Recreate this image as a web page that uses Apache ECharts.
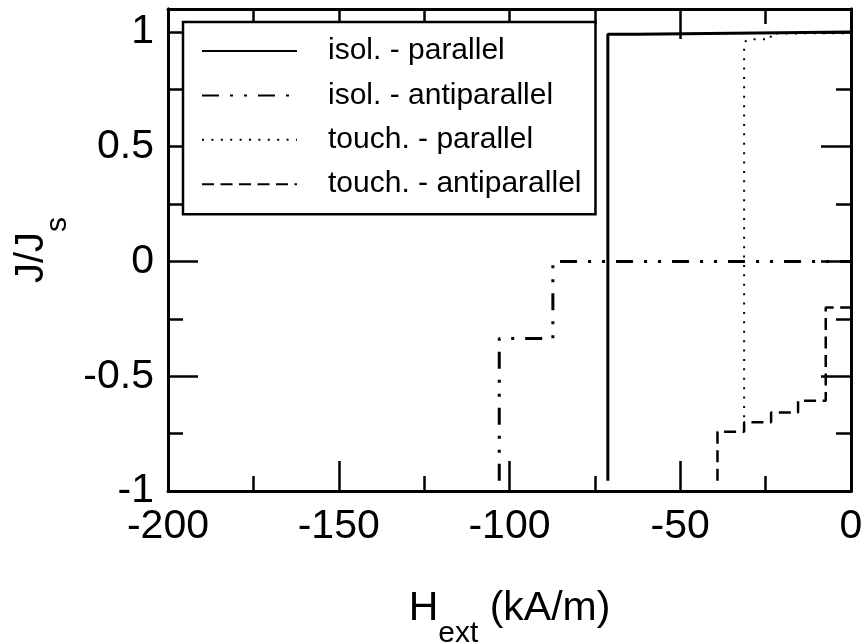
<!DOCTYPE html>
<html>
<head>
<meta charset="utf-8">
<script src="https://cdn.jsdelivr.net/npm/echarts@6/dist/echarts.min.js"></script>
<style>
  html, body { margin: 0; padding: 0; background: #fff; }
  #myChart { width: 866px; height: 644px; }
</style>
</head>
<body>
<div id="myChart"></div>
<script>
// step curves: x in kA/m, y as J/Js
const names = ['isol. - parallel', 'isol. - antiparallel', 'touch. - parallel', 'touch. - antiparallel'];

const isolParX = [-71.2, -71.2, -62.7, -62.7, 0];
const isolParY = [-0.955, 0.99, 0.99, 0.997, 1.0];

const isolAntiX = [-103, -103, -87.3, -87.3, 0];
const isolAntiY = [-0.955, -0.336, -0.336, 0, 0];

const touchParX = [-31.3, -31.3, -30, -23.5, -23.5, 0];
const touchParY = [-0.72, 0.955, 0.968, 0.968, 0.993, 0.995];

const touchAntiX = [-39.1, -39.1, -31.3, -31.3, -23.4, -23.4, -15.5, -15.5, -7.4, -7.4, 0];
const touchAntiY = [-0.955, -0.742, -0.742, -0.70, -0.70, -0.658, -0.658, -0.607, -0.607, -0.20, -0.20];

const xMin = -200, xMax = 0, xStep = 50;
const yMin = -1, yMax = 1.1, yStep = 0.5, yMinorStep = 0.25;

const FONT = 'Liberation Sans';

function pairs(xs, ys) {
  return xs.map((x, i) => [x, ys[i]]);
}

var myChart = echarts.init(document.getElementById('myChart'));

// frame axis helper (ticks inside, no labels unless asked)
function xAx(pos, showLabel) {
  return {
    type: 'value', position: pos, min: xMin, max: xMax, interval: xStep,
    axisLine: { onZero: false, lineStyle: { color: '#000', width: 3 } },
    axisTick: { inside: true, length: 30, lineStyle: { color: '#000', width: 2.5 } },
    minorTick: { show: true, splitNumber: 2, length: 15, lineStyle: { color: '#000', width: 2.5 } },
    splitLine: { show: false },
    axisLabel: { show: showLabel, color: '#000', fontSize: 41, fontFamily: FONT, margin: 15 }
  };
}
function yAx(pos, step, len, showLabel) {
  return {
    type: 'value', position: pos, min: yMin, max: yMax, interval: step, offset: 0,
    axisLine: { onZero: false, lineStyle: { color: '#000', width: 3 } },
    axisTick: { inside: true, length: len, lineStyle: { color: '#000', width: 2.5 } },
    splitLine: { show: false },
    axisLabel: {
      show: showLabel, color: '#000', fontSize: 41, fontFamily: FONT, margin: 14,
      formatter: function (v) { return v > 1.05 ? '' : String(v); }
    }
  };
}

var xMain = xAx('bottom', true);
xMain.name = '{a|H}{b|ext}{a| (kA/m)}';
xMain.nameLocation = 'middle';
xMain.nameGap = 78;
xMain.nameTextStyle = {
  color: '#000', fontFamily: FONT,
  rich: {
    a: { fontSize: 41, lineHeight: 80, fontFamily: FONT, color: '#000' },
    b: { fontSize: 30, lineHeight: 30, verticalAlign: 'bottom', fontFamily: FONT, color: '#000' }
  }
};

var yMain = yAx('left', yStep, 30, true);
yMain.name = '{a|J/J}{b|s}';
yMain.nameLocation = 'middle';
yMain.nameGap = 94;
yMain.nameTextStyle = {
  color: '#000', fontFamily: FONT,
  rich: {
    a: { fontSize: 40, lineHeight: 80, fontFamily: FONT, color: '#000' },
    b: { fontSize: 30, lineHeight: 30, verticalAlign: 'bottom', fontFamily: FONT, color: '#000' }
  }
};

var styles = [
  { type: 'solid', width: 3 },
  { type: [17, 11, 3, 11, 3, 11], width: 3 },
  { type: [2, 7.4], width: 2 },
  { type: [12, 6.5], width: 2.5 }
];
var datasets = [
  pairs(isolParX, isolParY),
  pairs(isolAntiX, isolAntiY),
  pairs(touchParX, touchParY),
  pairs(touchAntiX, touchAntiY)
];

var option = {
  animation: false,
  backgroundColor: '#fff',
  grid: { left: 168, right: 15, top: 9, bottom: 153, outerBoundsMode: 'none', containLabel: false },
  legend: {
    data: names,
    orient: 'vertical',
    left: 183, top: 22,
    padding: [14, 14, 15, 18],
    itemWidth: 95, itemHeight: 14, itemGap: 14.4,
    backgroundColor: '#fff',
    borderColor: '#000', borderWidth: 2.5, borderRadius: 0,
    selectedMode: false,
    itemStyle: { opacity: 0 },
    textStyle: { color: '#000', fontSize: 30, fontFamily: FONT, lineHeight: 30, padding: [0, 0, 0, 26] }
  },
  xAxis: [xMain, xAx('top', false)],
  yAxis: [
    yMain,
    yAx('left', yMinorStep, 15, false),
    yAx('right', yStep, 30, false),
    yAx('right', yMinorStep, 15, false)
  ],
  series: names.map((n, i) => ({
    name: n,
    type: 'line',
    data: datasets[i],
    symbol: 'none',
    color: '#000',
    lineStyle: { color: '#000', width: styles[i].width, type: styles[i].type },
    xAxisIndex: 0, yAxisIndex: 0,
    z: 3
  }))
};

myChart.setOption(option);
</script>
</body>
</html>
